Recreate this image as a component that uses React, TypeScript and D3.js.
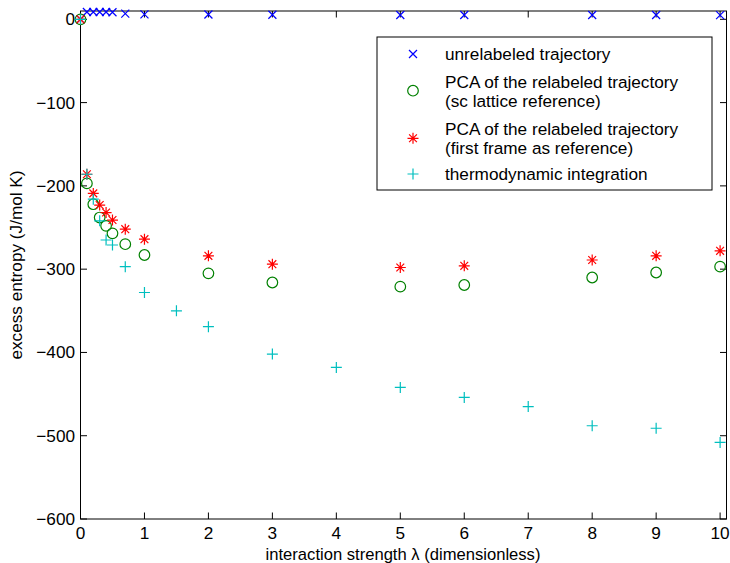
import React from "react";
import * as d3 from "d3";

const unrelabeledX = [0, 0.1, 0.2, 0.3, 0.4, 0.5, 0.7, 1, 2, 3, 5, 6, 8, 9, 10];
const unrelabeledY = [0, 8.8, 8.8, 8.8, 8.8, 8.5, 6.8, 6, 5.8, 5.5, 5.2, 5.2, 5.2, 5.2, 5];

const pcaScX = [0, 0.1, 0.2, 0.3, 0.4, 0.5, 0.7, 1, 2, 3, 5, 6, 8, 9, 10];
const pcaScY = [0, -197, -222, -238, -248, -257, -270, -283, -305, -316, -321, -319, -310, -304, -297];

const pcaFirstX = [0, 0.1, 0.2, 0.3, 0.4, 0.5, 0.7, 1, 2, 3, 5, 6, 8, 9, 10];
const pcaFirstY = [0, -186, -209, -223, -232, -241, -252, -264, -284, -294, -298, -296, -289, -284, -278];

const tiX = [0, 0.1, 0.2, 0.3, 0.4, 0.5, 0.7, 1, 1.5, 2, 3, 4, 5, 6, 7, 8, 9, 10];
const tiY = [0, -186, -216, -242, -265, -271, -297, -328, -350, -369, -402, -418, -442, -454, -465, -488, -491, -508];

const xTicks = [0, 1, 2, 3, 4, 5, 6, 7, 8, 9, 10];
const yTicks = [-600, -500, -400, -300, -200, -100, 0];

const legendLabels = [
  ["unrelabeled trajectory"],
  ["PCA of the relabeled trajectory", "(sc lattice reference)"],
  ["PCA of the relabeled trajectory", "(first frame as reference)"],
  ["thermodynamic integration"],
];

const BLUE = "#0000ff";
const GREEN = "#008000";
const RED = "#ff0000";
const CYAN = "#00bfbf";

const FONT = "'Liberation Sans', Arial, Helvetica, sans-serif";
const FS = 17.2;

function Marker({ type, x, y }: { type: string; x: number; y: number }) {
  const t = `translate(${x},${y})`;
  if (type === "x")
    return <path transform={t} d="M-4,-4L4,4M-4,4L4,-4" stroke={BLUE} strokeWidth={1.2} fill="none" />;
  if (type === "o")
    return <circle cx={x} cy={y} r={5.3} stroke={GREEN} strokeWidth={1.2} fill="none" />;
  if (type === "*")
    return (
      <path
        transform={t}
        d="M-5.5,0H5.5M0,-5.5V5.5M-3.9,-3.9L3.9,3.9M-3.9,3.9L3.9,-3.9"
        stroke={RED}
        strokeWidth={1.2}
        fill="none"
      />
    );
  return <path transform={t} d="M-5.5,0H5.5M0,-5.5V5.5" stroke={CYAN} strokeWidth={1.2} fill="none" />;
}

export default function App() {
  const W = 730;
  const H = 563;
  const left = 80.5,
    right = 726.5,
    top = 11,
    bottom = 519;
  const x = d3.scaleLinear().domain([0, 10.1]).range([left, right]);
  const y = d3.scaleLinear().domain([-600, 10]).range([bottom, top]);
  const tl = 6.5;

  const series = [
    { type: "x", xs: unrelabeledX, ys: unrelabeledY },
    { type: "o", xs: pcaScX, ys: pcaScY },
    { type: "*", xs: pcaFirstX, ys: pcaFirstY },
    { type: "+", xs: tiX, ys: tiY },
  ];

  const legX = 377,
    legY = 37,
    legW = 335,
    legH = 153;
  const legRows = [
    { marker: 54, lines: [60] },
    { marker: 90.7, lines: [87.5, 107] },
    { marker: 138.3, lines: [134.5, 154] },
    { marker: 174, lines: [180] },
  ];
  const types = ["x", "o", "*", "+"];

  return (
    <svg
      width={W}
      height={H}
      style={{ position: "absolute", left: 0, top: 0, background: "#fff" }}
      fontFamily={FONT}
      fontSize={FS}
    >
      <rect x={0} y={0} width={W} height={H} fill="#fff" />
      <rect x={left} y={top} width={right - left} height={bottom - top} fill="none" stroke="#000" strokeWidth={1} />
      {xTicks.map((t) => (
        <g key={"xt" + t}>
          <line x1={x(t)} x2={x(t)} y1={bottom} y2={bottom - tl} stroke="#000" />
          <line x1={x(t)} x2={x(t)} y1={top} y2={top + tl} stroke="#000" />
          <text x={x(t)} y={538.5} textAnchor="middle">
            {t}
          </text>
        </g>
      ))}
      {yTicks.map((t) => (
        <g key={"yt" + t}>
          <line x1={left} x2={left + tl} y1={y(t)} y2={y(t)} stroke="#000" />
          <line x1={right} x2={right - tl} y1={y(t)} y2={y(t)} stroke="#000" />
          <text x={75} y={y(t) + 6} textAnchor="end">
            {t < 0 ? "\u2212" + Math.abs(t) : String(t)}
          </text>
        </g>
      ))}
      <text x={403} y={559.5} textAnchor="middle" fontSize={16.6}>
        interaction strength λ (dimensionless)
      </text>
      <text transform={`translate(22,${(top + bottom) / 2}) rotate(-90)`} textAnchor="middle">
        excess entropy (J/mol K)
      </text>
      {series.map((s, si) => (
        <g key={"s" + si}>
          {s.xs.map((xv, i) => (
            <Marker key={i} type={s.type} x={x(xv)} y={y(s.ys[i])} />
          ))}
        </g>
      ))}
      <rect x={legX} y={legY} width={legW} height={legH} fill="#fff" stroke="#000" strokeWidth={1} />
      {legRows.map((r, i) => (
        <g key={"lg" + i}>
          <Marker type={types[i]} x={413} y={r.marker} />
          {r.lines.map((ly, j) => (
            <text key={j} x={445} y={ly}>
              {legendLabels[i][j]}
            </text>
          ))}
        </g>
      ))}
    </svg>
  );
}
